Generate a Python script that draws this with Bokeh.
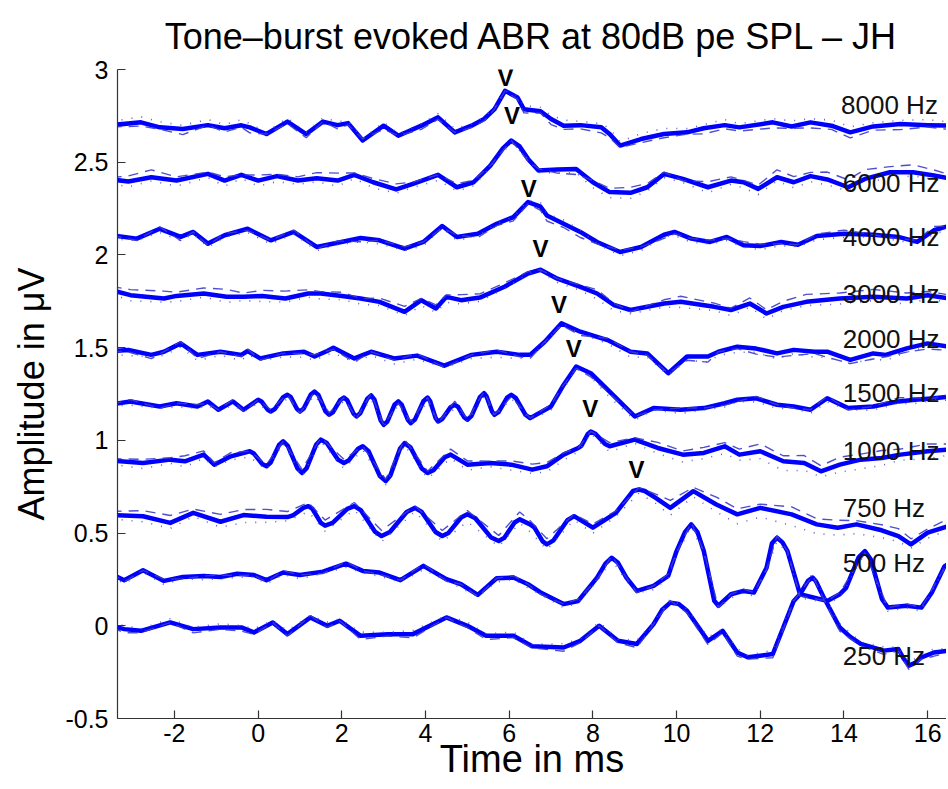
from bokeh.plotting import figure
from bokeh.models import Range1d, FixedTicker
from bokeh.core.properties import value
from bokeh.embed import file_html
from bokeh.resources import INLINE

# ---------------- data (time in ms, amplitude in microvolts) ----------------
# main read-off points per trace, plus extra read-off points on the rounded flanks (…_x)
t8k = [-3.5, -2.8, -2.35, -1.8, -1.2, -0.8, -0.4, -0.2, 0.2, 0.7, 1.15, 1.55, 1.9, 2.15, 2.5, 3.0, 3.35, 3.9, 4.3, 4.7,
       5.1, 5.4, 5.65, 5.9, 6.2, 6.35, 6.75, 7.0, 7.3, 7.7, 8.2, 8.4, 8.65, 9.15, 9.7, 10.25, 10.65, 11.15, 11.5, 12.3,
       12.75, 13.2, 13.7, 14.15, 14.7, 15.35, 16.0, 16.5]
v8k = [2.700, 2.715, 2.688, 2.679, 2.700, 2.683, 2.699, 2.688, 2.652, 2.719, 2.652, 2.719, 2.700, 2.711, 2.617, 2.697,
       2.643, 2.697, 2.742, 2.661, 2.697, 2.733, 2.786, 2.885, 2.849, 2.786, 2.775, 2.733, 2.697, 2.700, 2.688, 2.652,
       2.590, 2.625, 2.652, 2.661, 2.683, 2.700, 2.688, 2.715, 2.693, 2.715, 2.697, 2.661, 2.693, 2.706, 2.700, 2.697]
t8k_x, v8k_x = [], []
dash8k = [-1, -2, -1, -3, 0, -2, -1, -3, 0, -1, -2, 0, -2, -1, 1, -2, 0, -2, -1, 0, -1, -1, 0, 0, -1, -2, -1, -3, -2, -2,
          -3, -2, -1, -2, -2, -1, -3, -2, -2, -3, -1, -3, -2, -3, -2, -3, -1, -2]
dot8k = [2, 3, 3, 2, 3, 2, 3, 2, 1, 2, 1, 2, 2, 1, 1, 2, 1, 1, 2, 2, 1, 1, 1, 0, 1, 2, 2, 2, 3, 2,
         2, 3, 2, 3, 3, 2, 2, 3, 2, 2, 3, 2, 3, 3, 2, 2, 3, 2]

t6k = [-3.5, -3.1, -2.55, -1.95, -1.2, -0.8, -0.4, 0.0, 0.45, 0.95, 1.4, 1.9, 2.3, 2.75, 3.3, 3.7, 4.3, 4.75, 5.15, 5.55,
       6.05, 6.45, 6.7, 7.15, 7.6, 8.0, 8.4, 8.9, 9.3, 9.7, 10.15, 10.75, 11.3, 11.6, 11.95, 12.4, 12.8, 13.2, 13.6, 14.1,
       14.5, 15.1, 15.65, 16.15, 16.5]
v6k = [2.407, 2.396, 2.419, 2.401, 2.437, 2.401, 2.432, 2.401, 2.425, 2.401, 2.414, 2.401, 2.432, 2.392, 2.353, 2.383,
       2.432, 2.365, 2.392, 2.482, 2.617, 2.518, 2.455, 2.461, 2.464, 2.392, 2.339, 2.335, 2.365, 2.437, 2.410, 2.365,
       2.401, 2.392, 2.356, 2.419, 2.392, 2.425, 2.407, 2.365, 2.410, 2.446, 2.446, 2.428, 2.414]
t6k_x, v6k_x = [5.85, 6.25], [2.575, 2.585]
dash6k = [1, 3, 4, 2, 1, 2, 0, 3, 1, 2, 3, 4, 1, 2, 3, 1, 0, 2, 1, 0, 0, -1, 1, -2, -3, 1, 2, 3, 2, 1,
          -1, 3, 2, 1, 2, 4, 3, 2, 4, 4, 5, 3, 4, 3, 2]
dot6k = [-2, -3, -2, -3, -2, -3, -2, -3, -3, -2, -2, -3, -2, -3, -2, -2, -3, -2, -2, -1, -1, 0, -1, -2, -2, -3, -3, -3,
         -2, -2, -2, -3, -2, -3, -3, -2, -3, -3, -3, -2, -2, -3, -2, -2, -2]

t4k = [-3.5, -2.9, -2.35, -1.85, -1.55, -1.2, -0.8, -0.25, 0.3, 0.85, 1.4, 1.9, 2.45, 2.9, 3.5, 3.95, 4.4, 4.75, 5.25,
       5.7, 6.1, 6.45, 6.75, 6.9, 7.3, 7.7, 8.1, 8.65, 9.15, 9.7, 9.95, 10.35, 10.8, 11.2, 11.6, 12.0, 12.5, 12.9, 13.35,
       14.0, 14.7, 15.3, 15.75, 16.15, 16.5]
v4k = [2.106, 2.088, 2.141, 2.097, 2.124, 2.061, 2.106, 2.141, 2.079, 2.124, 2.043, 2.066, 2.091, 2.079, 2.034, 2.070,
       2.156, 2.097, 2.114, 2.168, 2.204, 2.285, 2.260, 2.213, 2.168, 2.124, 2.070, 2.016, 2.043, 2.109, 2.124, 2.088,
       2.070, 2.097, 2.052, 2.048, 2.070, 2.055, 2.102, 2.114, 2.109, 2.097, 2.070, 2.133, 2.156]
t4k_x, v4k_x = [], []
dash4k = [0, -1, 1, -2, 0, -1, 1, -1, 0, 1, -1, 1, -2, 0, 1, 0, -1, 1, -2, -1, -2, -1, -2, -3, -2, -3, -1, 1, 0, -2,
          -1, 0, 1, -1, 2, 1, -1, 0, 1, 2, 0, -1, 1, 2, 0]
dot4k = [-2, -1, -2, -2, -1, -2, -1, -2, -2, -1, -2, -1, -2, -2, -1, -2, -1, -2, -1, 0, 0, 1, 2, 1, 2, 1, -1, -2, -2, -1,
         -2, -2, -1, -2, -1, -2, -2, -1, -2, -2, -1, -2, -1, -2, -2]

t3k = [-3.5, -3.05, -2.25, -1.95, -1.3, -0.75, -0.35, 0.1, 0.65, 1.2, 1.5, 2.0, 2.45, 2.9, 3.5, 3.9, 4.25, 4.5, 4.85,
       5.3, 5.9, 6.45, 6.75, 7.15, 7.7, 8.1, 8.5, 8.9, 9.7, 10.1, 10.9, 11.3, 11.75, 12.15, 12.55, 13.1, 13.9, 14.7,
       15.5, 16.0, 16.5]
v3k = [1.810, 1.783, 1.765, 1.779, 1.792, 1.774, 1.774, 1.779, 1.765, 1.792, 1.792, 1.779, 1.765, 1.747, 1.693, 1.756,
       1.711, 1.774, 1.756, 1.770, 1.830, 1.900, 1.920, 1.872, 1.828, 1.792, 1.730, 1.703, 1.738, 1.747, 1.720, 1.703,
       1.738, 1.684, 1.720, 1.747, 1.765, 1.774, 1.765, 1.783, 1.765]
t3k_x, v3k_x = [], []
dash3k = [2, 3, 4, 2, 3, 4, 2, 3, 4, 2, 1, 2, 0, 2, 3, 1, 2, 1, 3, 2, 2, 1, 0, 0, 1, 2, 1, -1, 2, 3,
          2, 1, 3, 2, 3, 4, 3, 4, 3, 2, 2]
dot3k = [-2, -3, -2, -3, -2, -3, -2, -3, -2, -2, -3, -2, -3, -2, -2, -3, -2, -3, -2, -2, -1, 0, -1, -2, -2, -3, -3, -2,
         -2, -3, -2, -3, -2, -3, -2, -2, -3, -2, -3, -2, -2]

t2k = [-3.5, -3.1, -2.55, -2.25, -1.85, -1.45, -0.9, -0.4, -0.25, 0.05, 0.6, 1.1, 1.35, 1.65, 1.8, 2.3, 2.7, 3.25, 3.8,
       4.45, 5.1, 5.7, 6.25, 6.5, 6.85, 7.25, 7.7, 8.35, 8.9, 9.3, 9.8, 10.25, 10.75, 11.0, 11.45, 11.9, 12.4, 12.8,
       13.3, 13.6, 14.15, 14.7, 15.0, 15.5, 16.0, 16.5]
v2k = [1.482, 1.487, 1.461, 1.478, 1.523, 1.461, 1.478, 1.461, 1.482, 1.442, 1.469, 1.478, 1.452, 1.482, 1.500, 1.442,
       1.478, 1.442, 1.457, 1.403, 1.461, 1.478, 1.461, 1.461, 1.532, 1.631, 1.586, 1.541, 1.478, 1.469, 1.362, 1.452,
       1.452, 1.478, 1.505, 1.495, 1.469, 1.488, 1.478, 1.478, 1.434, 1.469, 1.461, 1.496, 1.523, 1.505]
t2k_x, v2k_x = [], []
dash2k = [0, -1, -2, 0, 1, -2, 0, -1, 1, -1, 0, -1, 1, 0, -1, -2, 0, -1, 1, -1, 0, 1, -1, -2, 0, -1, -2, 1, 0, -1,
          0, -2, -3, 0, -1, -3, -2, -3, -1, -3, -2, -3, -1, -2, -3, -2]
dot2k = [-2, -3, -1, -2, -2, -3, -2, -3, -2, -1, -2, -3, -2, -2, -3, -2, -2, -3, -2, -1, -2, -3, -2, -1, -1, 0, -1, -2,
         -3, -2, -1, -2, -3, -2, -3, -2, -3, -2, -3, -3, -2, -3, -3, -2, -2, -3]

t1500 = [-3.5, -3.05, -2.35, -1.95, -1.45, -1.2, -0.95, -0.6, -0.35, 0.0, 0.3, 0.7, 1.0, 1.35, 1.7, 2.05, 2.35, 2.7, 3.0,
         3.35, 3.65, 4.05, 4.3, 4.7, 5.0, 5.4, 5.65, 6.05, 6.5, 7.0, 7.3, 7.6, 7.95, 8.4, 9.0, 9.45, 10.1, 10.65, 11.15,
         11.45, 11.9, 12.4, 12.8, 13.2, 13.6, 14.1, 14.7, 15.3, 15.7, 16.15, 16.5]
v1500 = [1.195, 1.210, 1.183, 1.200, 1.183, 1.210, 1.165, 1.210, 1.165, 1.219, 1.156, 1.246, 1.156, 1.263, 1.138, 1.231,
         1.129, 1.242, 1.084, 1.210, 1.093, 1.231, 1.102, 1.192, 1.111, 1.254, 1.138, 1.246, 1.120, 1.183, 1.299, 1.398,
         1.362, 1.263, 1.129, 1.174, 1.165, 1.174, 1.200, 1.219, 1.227, 1.192, 1.183, 1.165, 1.227, 1.174, 1.183, 1.210,
         1.219, 1.227, 1.236]
t1500_x = [0.08, 0.23, 0.4, 0.6, 0.78, 0.93, 1.09, 1.26, 1.44, 1.61, 1.79, 1.96, 2.13, 2.28, 2.44, 2.61, 2.78, 2.93,
           3.09, 3.26, 3.43, 3.58, 3.75, 3.95, 4.11, 4.24, 4.4, 4.6, 4.78, 4.93, 5.1, 5.3, 5.46, 5.59, 5.75, 5.95, 6.16,
           6.39]
v1500_x = [1.210, 1.165, 1.169, 1.233, 1.233, 1.169, 1.172, 1.247, 1.245, 1.156, 1.152, 1.217, 1.216, 1.144, 1.146,
           1.225, 1.219, 1.107, 1.102, 1.192, 1.193, 1.110, 1.113, 1.211, 1.212, 1.121, 1.115, 1.179, 1.180, 1.123,
           1.132, 1.233, 1.237, 1.155, 1.154, 1.230, 1.228, 1.138]
dash1500 = [0, 1, -1, 0, 1, -1, 0, 1, -1, 0, 1, 0, -1, 0, 1, 0, -1, 1, 0, -1, 1, 0, -1, 2, 0, 1, 0, -1, 0, 1,
            0, -1, -2, -1, 0, -1, 1, 0, -1, -1, 1, 0, -1, 0, 1, -1, 0, 2, 1, 0, 1]
dot1500 = [-1, -2, -1, -2, -1, -2, -1, -2, -1, -2, -1, -2, -1, -2, -1, -2, -1, -2, -1, -2, -1, -2, -1, -2, -1, -2, -1,
           -2, -1, -2, -2, -1, -2, -3, -2, -1, -2, -1, -2, -1, -2, -2, -1, -2, -2, -1, -2, -1, -2, -1, -2]

t1000 = [-3.5, -2.75, -2.1, -1.75, -1.3, -1.05, -0.65, -0.2, 0.2, 0.6, 1.05, 1.5, 2.05, 2.5, 3.05, 3.5, 4.05, 4.6, 5.0,
         5.55, 6.05, 6.55, 6.9, 7.3, 7.65, 7.95, 8.4, 9.0, 9.55, 10.15, 10.65, 11.15, 11.5, 12.0, 12.55, 13.05, 13.45,
         13.9, 14.4, 14.9, 15.35, 16.0, 16.5]
v1000 = [0.891, 0.878, 0.896, 0.887, 0.923, 0.869, 0.914, 0.941, 0.860, 0.995, 0.824, 1.004, 0.878, 0.968, 0.780, 0.985,
         0.824, 0.923, 0.869, 0.878, 0.869, 0.842, 0.860, 0.923, 0.959, 1.048, 0.968, 1.004, 0.959, 0.923, 0.932, 0.968,
         0.923, 0.941, 0.887, 0.878, 0.833, 0.869, 0.896, 0.905, 0.923, 0.941, 0.950]
t1000_x = [-0.1, 0.1, 0.3, 0.5, 0.71, 0.94, 1.16, 1.39, 1.64, 1.91, 2.16, 2.39, 2.64, 2.91, 3.16, 3.39, 3.64, 3.91,
           4.19, 4.46, 7.73, 7.88, 8.06, 8.29]
v1000_x = [0.929, 0.872, 0.880, 0.975, 0.970, 0.849, 0.850, 0.978, 0.986, 0.896, 0.891, 0.955, 0.941, 0.807, 0.810,
           0.955, 0.962, 0.848, 0.839, 0.909, 0.972, 1.035, 1.036, 0.980]
dash1000 = [1, 2, 1, 3, 2, 1, 2, 0, 1, 0, 2, 1, 2, 0, 1, 2, 1, 3, 2, 1, 2, 3, 2, 1, 0, 0, 2, 1, 3, 2,
            3, 2, 3, 4, 3, 4, 3, 4, 3, 4, 3, 4, 3]
dot1000 = [-2, -3, -2, -3, -2, -1, -2, -3, -2, -1, -2, -1, -3, -2, -2, -1, -3, -2, -3, -2, -3, -2, -3, -3, -2, -1, -3,
           -2, -3, -4, -3, -4, -3, -4, -5, -4, -3, -4, -5, -4, -3, -4, -3]

t750 = [-3.5, -2.75, -2.1, -1.55, -0.9, -0.35, 0.2, 0.7, 1.2, 1.6, 2.3, 2.95, 3.75, 4.4, 5.0, 5.75, 6.25, 6.5, 6.9, 7.55,
        8.0, 8.55, 9.1, 9.5, 9.85, 10.4, 10.95, 11.45, 12.0, 12.75, 13.35, 13.85, 14.3, 14.9, 15.3, 15.6, 16.0, 16.5]
v750 = [0.597, 0.591, 0.555, 0.609, 0.561, 0.597, 0.588, 0.586, 0.645, 0.540, 0.645, 0.484, 0.636, 0.484, 0.601, 0.457,
        0.574, 0.547, 0.439, 0.591, 0.529, 0.609, 0.735, 0.690, 0.636, 0.726, 0.654, 0.601, 0.636, 0.601, 0.547, 0.529,
        0.547, 0.515, 0.484, 0.439, 0.502, 0.538]
t750_x = [0.83, 1.08, 1.3, 1.5, 1.78, 2.13, 2.46, 2.79, 3.15, 3.55, 3.91, 4.24, 4.55, 4.85, 5.19, 5.56, 5.88, 6.13, 6.6,
          6.8, 7.06, 7.39, 8.96, 9.24]
v750_x = [0.595, 0.636, 0.630, 0.555, 0.555, 0.630, 0.622, 0.508, 0.506, 0.614, 0.614, 0.506, 0.501, 0.584, 0.580,
          0.478, 0.474, 0.557, 0.531, 0.455, 0.461, 0.569, 0.727, 0.727]
dash750 = [2, 3, 4, 2, 4, 3, 4, 3, 2, 3, 2, 3, 1, 3, 2, 3, 4, 2, 3, 1, 2, 1, 1, 2, 4, 2, 4, 3, 2, 4,
           3, 4, 2, 3, 4, 3, 2, 4]
dot750 = [-2, -3, -3, -2, -3, -4, -3, -2, -3, -3, -2, -3, -2, -3, -4, -3, -2, -4, -3, -2, -3, -2, -2, -3, -4, -3, -4,
          -5, -5, -6, -5, -4, -5, -4, -3, -2, -3, -2]

t500 = [-3.5, -3.2, -2.75, -2.25, -1.8, -1.3, -0.9, -0.5, -0.1, 0.2, 0.6, 1.0, 1.55, 2.1, 2.5, 2.9, 3.4, 3.95, 4.5, 4.85,
        5.25, 5.7, 6.1, 6.45, 6.75, 7.3, 7.65, 8.1, 8.45, 8.8, 9.05, 9.45, 9.8, 10.0, 10.35, 10.65, 11.0, 11.3, 11.6,
        11.85, 12.15, 12.4, 12.65, 12.95, 13.6, 13.9, 14.5, 15.05, 15.5, 15.85, 16.4, 16.5]
v500 = [0.278, 0.246, 0.299, 0.242, 0.263, 0.269, 0.263, 0.281, 0.274, 0.246, 0.287, 0.274, 0.292, 0.335, 0.296, 0.287,
        0.246, 0.323, 0.251, 0.224, 0.167, 0.256, 0.260, 0.224, 0.180, 0.117, 0.134, 0.260, 0.367, 0.260, 0.188, 0.215,
        0.269, 0.403, 0.547, 0.403, 0.108, 0.170, 0.188, 0.179, 0.313, 0.475, 0.403, 0.170, 0.134, 0.170, 0.403, 0.098,
        0.108, 0.098, 0.320, 0.335]
t500_x = [8.3, 8.6, 10.2, 10.5, 10.9, 12.28, 12.53, 14.05, 14.35, 14.64, 14.91, 16.1]
v500_x = [0.335, 0.340, 0.505, 0.505, 0.135, 0.445, 0.450, 0.204, 0.369, 0.358, 0.143, 0.180]
dash500 = [1, -1, 0, 1, -1, 0, 1, -1, 0, -1, 1, 0, -1, 1, 0, -1, 0, 1, -1, 0, -1, 0, 1, 0, -1, 0, 1, -1, 1, 0,
           -1, 0, 1, -1, 1, 0, -1, 0, 1, 0, -1, 1, 0, -1, 0, 1, -1, 0, 1, 0, -1, 0]
dot500 = [-1, -2, -1, -2, -1, -2, -1, -2, -1, -2, -1, -2, -1, -2, -1, -2, -1, -2, -1, -2, -1, -2, -1, -2, -1, -2, -1,
          -2, -1, -2, -1, -2, -1, -2, -1, -2, -1, -2, -1, -2, -1, -2, -1, -2, -1, -2, -1, -2, -1, -2, -1, -2]

t250 = [-3.5, -3.2, -2.8, -2.1, -1.55, -0.9, -0.4, -0.1, 0.35, 0.7, 1.25, 1.65, 1.95, 2.45, 3.1, 3.7, 4.5, 5.0, 5.45,
        6.1, 6.55, 7.3, 7.7, 8.15, 8.6, 9.05, 9.45, 9.85, 10.25, 10.75, 11.1, 11.45, 11.7, 12.3, 12.8, 13.25, 13.5,
        13.9, 14.4, 14.95, 15.3, 15.55, 15.85, 16.15, 16.5]
v250 = [0.000, -0.018, -0.027, 0.018, -0.018, -0.009, -0.009, -0.036, 0.018, -0.045, 0.045, 0.000, 0.027, -0.054,
        -0.045, -0.045, 0.045, 0.000, -0.054, -0.054, -0.110, -0.117, -0.081, 0.000, -0.081, -0.098, 0.009, 0.125,
        0.081, -0.081, -0.027, -0.144, -0.170, -0.152, 0.134, 0.260, 0.161, -0.009, -0.098, -0.134, -0.125, -0.215,
        -0.170, -0.144, -0.134]
t250_x = [9.65, 10.05, 12.95, 13.14, 13.33, 14.15, 15.42, 15.7]
v250_x = [0.085, 0.118, 0.170, 0.242, 0.240, -0.060, -0.175, -0.200]
dash250 = [-1, -2, -1, 0, -2, -1, -2, -1, 0, -1, 1, -1, 0, -2, -1, -2, 0, -1, -2, -1, -1, -2, -1, 0, -1, -2, 0, 1, -1,
           -2, -1, -2, -1, -2, 0, 1, -1, -2, -1, -2, -1, -2, -1, -2, -1]
dot250 = [1, 2, 1, 2, 1, 2, 1, 2, 1, 2, 1, 2, 1, 2, 1, 2, 1, 2, 1, 2, 1, 2, 1, 2, 1, 2, 1, 2, 1, 2,
          1, 2, 1, 2, 1, 2, 1, 2, 1, 2, 1, 2, 1, 2, 1]

freq_labels = ["8000 Hz", "6000 Hz", "4000 Hz", "3000 Hz", "2000 Hz", "1500 Hz", "1000 Hz", "750 Hz", "500 Hz", "250 Hz"]
label_t = [13.93, 13.97, 13.97, 13.97, 13.97, 13.97, 13.97, 13.97, 13.97, 13.97]
label_amp = [2.808, 2.387, 2.097, 1.790, 1.548, 1.253, 0.941, 0.634, 0.339, -0.161]

# wave V peak markers
wave_v_t = [5.91, 6.07, 6.47, 6.75, 7.19, 7.54, 7.94, 9.04]
wave_v_amp = [2.957, 2.751, 2.356, 2.034, 1.730, 1.496, 1.174, 0.842]

x_ticks = [-2, 0, 2, 4, 6, 8, 10, 12, 14, 16]
x_tick_labels = ["-2", "0", "2", "4", "6", "8", "10", "12", "14", "16"]
y_ticks = [-0.5, 0, 0.5, 1, 1.5, 2, 2.5, 3]
y_tick_labels = ["-0.5", "0", "0.5", "1", "1.5", "2", "2.5", "3"]

traces = [
    (t8k, v8k, t8k_x, v8k_x, dash8k, dot8k), (t6k, v6k, t6k_x, v6k_x, dash6k, dot6k),
    (t4k, v4k, t4k_x, v4k_x, dash4k, dot4k), (t3k, v3k, t3k_x, v3k_x, dash3k, dot3k),
    (t2k, v2k, t2k_x, v2k_x, dash2k, dot2k), (t1500, v1500, t1500_x, v1500_x, dash1500, dot1500),
    (t1000, v1000, t1000_x, v1000_x, dash1000, dot1000), (t750, v750, t750_x, v750_x, dash750, dot750),
    (t500, v500, t500_x, v500_x, dash500, dot500), (t250, v250, t250_x, v250_x, dash250, dot250),
]

# ---------------- figure ----------------
FONT = "Liberation Sans"
p = figure(width=946, height=787, output_backend="svg", toolbar_location=None,
           x_range=Range1d(-3.36, 16.45), y_range=Range1d(-0.5, 3.0),
           min_border_left=117, min_border_right=0, min_border_top=67, min_border_bottom=69)
p.background_fill_color = "white"
p.border_fill_color = "white"
p.outline_line_color = None
p.xgrid.visible = False
p.ygrid.visible = False

p.title.text = "Tone\u2013burst evoked ABR at 80dB pe SPL \u2013 JH"
p.title.align = "center"
p.title.text_font = FONT
p.title.text_font_size = "36px"
p.title.text_font_style = "normal"
p.title.text_color = "black"
p.title.standoff = 26

for ax in (p.xaxis[0], p.yaxis[0]):
    ax.axis_line_color = "#333333"
    ax.axis_line_width = 1.2
    ax.major_tick_in = 8
    ax.major_tick_out = 0
    ax.major_tick_line_color = "#333333"
    ax.major_tick_line_width = 1.2
    ax.minor_tick_line_color = None
    ax.major_label_text_font = FONT
    ax.major_label_text_font_size = "25px"
    ax.major_label_text_color = "black"
    ax.axis_label_text_font = FONT
    ax.axis_label_text_font_style = "normal"
    ax.axis_label_text_color = "black"

p.xaxis.ticker = FixedTicker(ticks=x_ticks)
p.xaxis.major_label_overrides = {t: s for t, s in zip(x_ticks, x_tick_labels)}
p.yaxis.ticker = FixedTicker(ticks=y_ticks)
p.yaxis.major_label_overrides = {t: s for t, s in zip(y_ticks, y_tick_labels)}
p.xaxis.axis_label = "Time in ms"
p.yaxis.axis_label = "Amplitude in \u03bcV"
p.xaxis.axis_label_text_font_size = "38px"
p.yaxis.axis_label_text_font_size = "36px"
p.xaxis.major_label_standoff = 5
p.xaxis.axis_label_standoff = -7
p.yaxis.major_label_standoff = 9
p.yaxis.axis_label_standoff = 10

for t, v, tx, vx, dd, dt in traces:
    pts = sorted(zip(t + tx, v + vx))
    p.line([a for a, b in pts], [b for a, b in pts], line_color="#0000ff", line_width=4.5,
           line_join="round", line_cap="round")
for t, v, tx, vx, dd, dt in traces:
    dashed = [a + d / 100.0 for a, d in zip(v, dd)]
    dotted = [a + d / 100.0 for a, d in zip(v, dt)]
    p.line(t, dashed, line_color="#3c3cc8", line_width=1.4, line_dash="10 7", line_alpha=0.9)
    p.line(t, dotted, line_color="#5050c8", line_width=1.6, line_dash="1 9", line_alpha=0.9)

p.text(x=label_t, y=label_amp, text=freq_labels, text_font=value(FONT), text_font_size="26px",
       text_color="#111111", text_align="left", text_baseline="middle")
p.text(x=wave_v_t, y=wave_v_amp, text=["V"] * len(wave_v_t), text_font=value(FONT), text_font_size="24px",
       text_font_style="bold", text_color="black", text_align="center", text_baseline="middle")

open("out.html", "w").write(file_html(p, INLINE))
